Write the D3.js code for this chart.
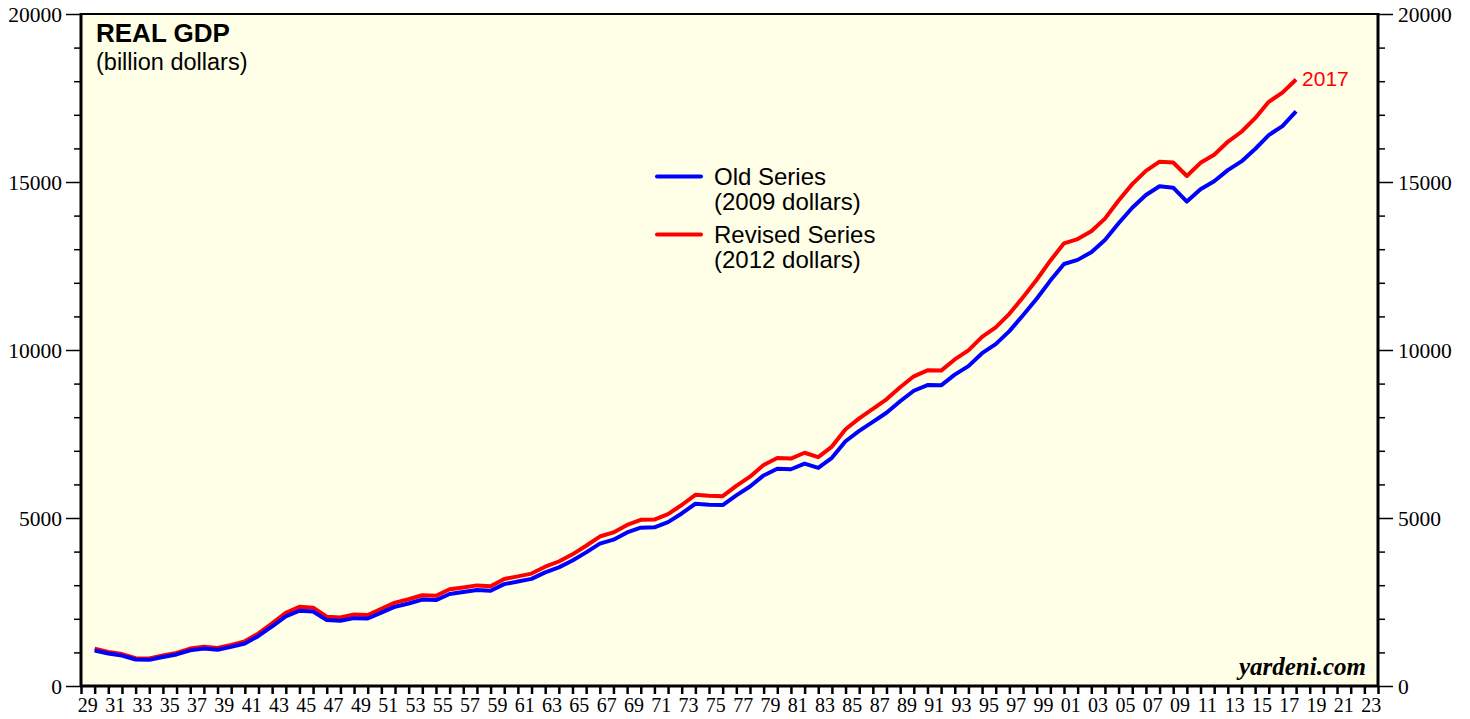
<!DOCTYPE html>
<html><head><meta charset="utf-8">
<script src="https://cdn.jsdelivr.net/npm/d3@7"></script>
<style>html,body{margin:0;padding:0;background:#fff;}svg{display:block;}</style>
</head><body>
<svg id="chart" width="1470" height="719"></svg>
<script>
const years = d3.range(1929, 2018);
const oldSeries = [1056.6,966.7,904.8,788.2,778.3,862.2,939.0,1060.5,1114.6,1077.7,1163.6,1266.1,1490.3,1771.8,2073.7,2239.4,2217.8,1960.9,1939.4,2020.0,2008.9,2184.0,2360.0,2456.1,2571.4,2556.9,2739.0,2797.4,2856.3,2835.3,3031.0,3108.7,3188.1,3383.1,3530.4,3734.0,3976.7,4238.9,4355.2,4569.0,4712.5,4722.0,4877.6,5134.3,5424.1,5396.0,5385.4,5675.4,5937.0,6267.2,6466.2,6450.4,6617.7,6491.3,6792.0,7285.0,7593.8,7860.5,8132.6,8474.5,8786.4,8955.0,8948.4,9266.6,9521.0,9905.4,10174.8,10561.0,11034.9,11525.9,12065.9,12559.7,12682.2,12908.8,13271.1,13773.5,14234.2,14613.8,14873.7,14830.4,14418.7,14783.8,15020.6,15354.6,15612.2,15982.3,16397.2,16662.2,17100.0];
const revisedSeries = [1109.4,1015.1,950.0,827.6,817.3,905.6,986.1,1113.7,1170.6,1131.8,1222.1,1330.1,1566.3,1862.4,2179.5,2355.3,2332.1,2062.2,2039.8,2125.7,2113.1,2298.5,2481.3,2580.8,2701.3,2687.1,2877.7,2933.3,2994.6,2971.3,3185.8,3262.1,3345.7,3550.7,3705.3,3918.8,4173.5,4448.4,4570.9,4795.2,4945.6,4954.5,5117.6,5386.7,5690.8,5661.6,5649.5,5955.1,6229.3,6576.5,6785.1,6769.3,6941.9,6810.8,7124.8,7642.3,7965.5,8245.5,8531.4,8890.1,9217.0,9395.8,9387.0,9719.2,9989.5,10389.8,10672.5,11076.5,11572.2,12089.9,12658.0,13175.0,13301.1,13532.1,13910.6,14448.4,14935.9,15331.1,15604.2,15579.3,15179.0,15570.2,15812.9,16197.0,16495.4,16899.8,17386.7,17659.2,18050.7];
const yTicks = [0, 5000, 10000, 15000, 20000];
const yMinorTicks = d3.range(0, 20001, 1000);
const xLabelYears = d3.range(1929, 2024, 2);
const xTickYears = d3.range(1929, 2025);
const legendItems = [
  {label: ["Old Series", "(2009 dollars)"], color: "#0000ff"},
  {label: ["Revised Series", "(2012 dollars)"], color: "#ff0000"}
];

const svg = d3.select("#chart");
const L = 81, R = 1378, T = 14, B = 686;
const x = d3.scaleLinear().domain([1929, 2024]).range([L, R]);
const y = d3.scaleLinear().domain([0, 20000]).range([B, T]);

svg.append("rect").attr("x", L).attr("y", T).attr("width", R - L).attr("height", B - T).attr("fill", "#fffee6");

const serif = "'Liberation Serif','Times New Roman',serif";
const sans = "'Liberation Sans',Arial,Helvetica,sans-serif";

// left axis
const gL = svg.append("g").attr("transform", `translate(${L},0)`)
  .call(d3.axisLeft(y).tickValues(yTicks).tickSize(15).tickFormat(d3.format("d")));
gL.select(".domain").remove();
gL.selectAll(".tick line").attr("stroke", "#000").attr("stroke-width", 1.5);
gL.selectAll(".tick text").attr("font-family", serif).attr("font-size", 21.5).attr("fill", "#000").attr("x", -19).attr("dy", "0.33em");
const gLm = svg.append("g").attr("transform", `translate(${L},0)`)
  .call(d3.axisLeft(y).tickValues(yMinorTicks.filter(v => v % 5000)).tickSize(7).tickFormat(""));
gLm.select(".domain").remove();
gLm.selectAll(".tick line").attr("stroke", "#000").attr("stroke-width", 1.5);

// right axis
const gR = svg.append("g").attr("transform", `translate(${R},0)`)
  .call(d3.axisRight(y).tickValues(yTicks).tickSize(15).tickFormat(d3.format("d")));
gR.select(".domain").remove();
gR.selectAll(".tick line").attr("stroke", "#000").attr("stroke-width", 1.5);
gR.selectAll(".tick text").attr("font-family", serif).attr("font-size", 21.5).attr("fill", "#000").attr("x", 20).attr("dy", "0.33em");
const gRm = svg.append("g").attr("transform", `translate(${R},0)`)
  .call(d3.axisRight(y).tickValues(yMinorTicks.filter(v => v % 5000)).tickSize(7).tickFormat(""));
gRm.select(".domain").remove();
gRm.selectAll(".tick line").attr("stroke", "#000").attr("stroke-width", 1.5);

// bottom axis ticks
const gB = svg.append("g").attr("transform", `translate(0,${B})`)
  .call(d3.axisBottom(x).tickValues(xTickYears).tickSize(8).tickFormat(""));
gB.select(".domain").remove();
gB.selectAll(".tick line").attr("stroke", "#000").attr("stroke-width", 2.5);
// bottom labels (centered in year)
svg.append("g").selectAll("text").data(xLabelYears).join("text")
  .attr("x", d => x(d + 0.5)).attr("y", 712)
  .attr("text-anchor", "middle").attr("font-family", serif).attr("font-size", 20).attr("fill", "#000")
  .text(d => String(d % 100).padStart(2, "0"));

// frame
svg.append("rect").attr("x", L).attr("y", T).attr("width", R - L).attr("height", B - T)
  .attr("fill", "none").attr("stroke", "#000").attr("stroke-width", 2);
svg.append("line").attr("x1", L).attr("x2", L).attr("y1", T - 1).attr("y2", B + 1).attr("stroke", "#000").attr("stroke-width", 3);
svg.append("line").attr("x1", R).attr("x2", R).attr("y1", T - 1).attr("y2", B + 1).attr("stroke", "#000").attr("stroke-width", 3);
svg.append("line").attr("x1", L - 1).attr("x2", R + 1).attr("y1", B).attr("y2", B).attr("stroke", "#000").attr("stroke-width", 3);

// lines (data plotted at year end)
const line = d3.line().x((d, i) => x(years[i] + 1)).y(d => y(d));
svg.append("path").datum(revisedSeries).attr("d", line).attr("fill", "none").attr("stroke", "#ff0000").attr("stroke-width", 4).attr("stroke-linejoin", "round");
svg.append("path").datum(oldSeries).attr("d", line).attr("fill", "none").attr("stroke", "#0000ff").attr("stroke-width", 4).attr("stroke-linejoin", "round");

// end label
svg.append("text").attr("x", x(years[years.length - 1] + 1) + 6).attr("y", 86)
  .attr("font-family", sans).attr("font-size", 21).attr("fill", "#ff0000").text("2017");

// title
svg.append("text").attr("x", 96).attr("y", 42).attr("font-family", sans).attr("font-weight", "bold").attr("font-size", 26).attr("fill", "#000").text("REAL GDP");
svg.append("text").attr("x", 96).attr("y", 70).attr("font-family", sans).attr("font-size", 23.5).attr("fill", "#000").text("(billion dollars)");

// legend
const lg = svg.append("g").selectAll("g").data(legendItems).join("g")
  .attr("transform", (d, i) => `translate(656,${176.5 + i * 58})`);
lg.append("line").attr("x1", 1).attr("x2", 45).attr("y1", 0).attr("y2", 0).attr("stroke", d => d.color).attr("stroke-width", 4).attr("stroke-linecap", "round");
lg.append("text").attr("x", 58).attr("y", 8).attr("font-family", sans).attr("font-size", 24).attr("fill", "#000").text(d => d.label[0]);
lg.append("text").attr("x", 58).attr("y", 33).attr("font-family", sans).attr("font-size", 24).attr("fill", "#000").text(d => d.label[1]);

// watermark
svg.append("text").attr("x", 1366).attr("y", 675).attr("text-anchor", "end").attr("font-family", serif)
  .attr("font-weight", "bold").attr("font-style", "italic").attr("font-size", 25).attr("fill", "#000").text("yardeni.com");
</script>
</body></html>
